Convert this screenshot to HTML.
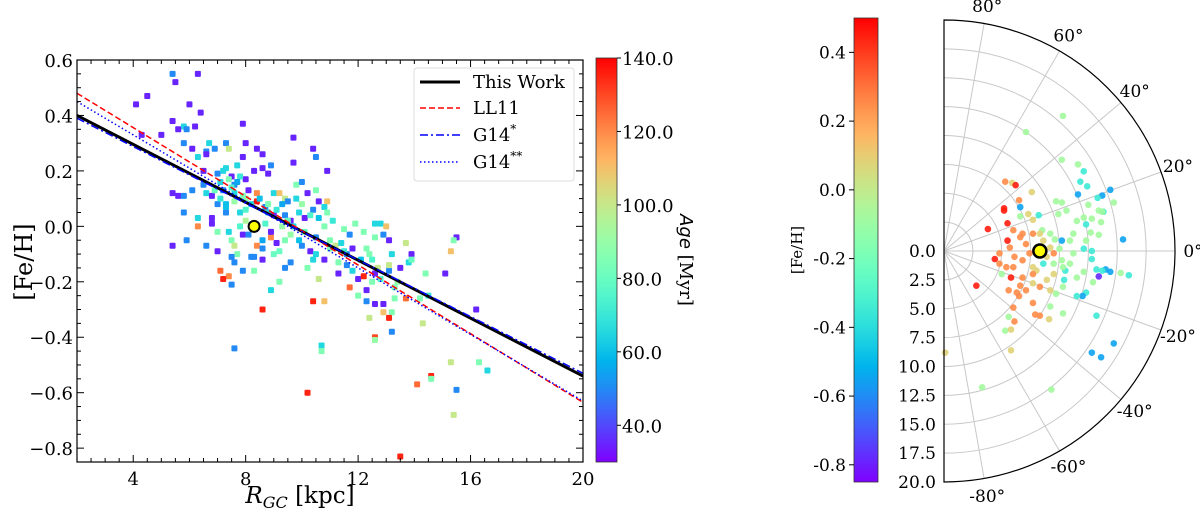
<!DOCTYPE html>
<html><head><meta charset="utf-8"><style>
html,body{margin:0;padding:0;background:#fff;}
svg{display:block;font-family:"DejaVu Serif","Liberation Serif",serif;}
</style></head><body>
<svg id="fig" width="1200" height="510" viewBox="0 0 1200 510" xmlns="http://www.w3.org/2000/svg">
<defs id="defs"></defs>
<g id="left"></g>
<g id="right"></g>
</svg>
<script>
// ---------- LEFT CHART DATA ----------
const leftR = [5.4,6.3,5.5,4.5,4.1,6.0,6.4,5.4,7.9,5.8,5.9,5.6,6.2,4.3,5.0,5.8,6.1,6.6,6.9,6.7,7.3,7.4,8.0,8.4,8.6,9.7,10.4,10.5,10.9,9.7,8.6,8.9,8.8,7.9,7.7,7.3,6.6,6.3,6.5,7.0,7.5,8.0,8.3,7.1,6.5,6.1,5.4,5.6,5.8,6.6,6.8,7.2,7.6,8.1,8.4,8.4,8.7,9.0,9.2,9.4,9.5,9.8,10.0,10.2,10.5,10.9,10.6,10.8,10.4,9.9,10.1,9.4,9.0,8.8,9.6,6.3,6.8,7.3,7.8,7.0,6.8,6.3,5.8,7.9,8.1,7.5,7.6,8.4,7.7,7.5,8.2,8.6,8.3,8.6,8.9,9.1,9.4,10.0,10.3,10.5,10.8,11.0,11.2,11.6,11.3,10.2,9.6,9.4,9.2,8.9,8.3,7.9,7.6,7.0,6.6,5.4,5.9,7.5,7.4,7.1,7.2,7.6,8.6,10.4,10.8,10.6,11.3,11.6,12.0,11.7,12.0,12.3,12.3,12.5,12.2,12.6,12.7,13.1,13.1,13.2,13.7,13.8,13.9,13.5,13.3,13.3,13.7,14.2,14.4,12.6,12.9,12.9,13.2,13.1,12.4,12.6,12.6,13.2,14.3,10.7,10.7,11.8,12.2,12.6,12.8,12.9,13.0,13.1,12.6,11.9,11.5,11.7,15.5,15.4,15.3,15.1,16.2,14.6,14.6,14.1,15.3,16.3,16.6,15.5,15.4,10.2,13.5,8.9,9.7,10.8,10.5,11.4,
 7.2,7.4,7.6,7.8,8.0,7.3,7.5,7.7,7.9,8.2,6.9,7.1,7.3,7.6,8.0,8.5,8.8,9.1,9.3,9.5,9.8,10.0,10.3,10.6,10.9,11.1,10.1,9.9,9.3,8.7,7.0,7.4,7.8,8.6,9.2,9.6,10.4,11.0,11.5,12.1,12.4,12.8,13.4,13.9,14.5,11.8,12.3,12.5,9.0,8.0];
const leftFeH = [0.55,0.55,0.52,0.47,0.44,0.44,0.41,0.38,0.37,0.36,0.35,0.35,0.36,0.33,0.33,0.30,0.28,0.27,0.28,0.30,0.30,0.28,0.30,0.28,0.26,0.32,0.28,0.25,0.20,0.23,0.21,0.22,0.19,0.25,0.22,0.21,0.26,0.25,0.20,0.19,0.18,0.17,0.20,0.16,0.15,0.13,0.12,0.11,0.11,0.12,0.11,0.13,0.12,0.13,0.12,0.09,0.07,0.12,0.12,0.10,0.09,0.15,0.16,0.12,0.13,0.09,0.09,0.07,0.06,0.05,0.03,0.04,0.04,0.05,0.02,0.03,0.03,0.05,0.05,0.08,0.01,0.00,0.05,-0.03,-0.03,-0.05,-0.07,-0.07,-0.10,-0.11,-0.11,-0.08,-0.11,-0.12,-0.04,-0.06,-0.05,-0.07,-0.09,-0.10,-0.12,-0.08,-0.07,-0.10,-0.13,-0.15,-0.13,-0.15,-0.20,-0.23,-0.16,-0.16,-0.13,-0.09,-0.07,-0.07,-0.05,-0.21,-0.18,-0.16,-0.19,-0.44,-0.30,-0.27,-0.27,-0.19,-0.17,-0.14,-0.19,-0.22,-0.25,-0.23,-0.27,-0.20,-0.18,-0.17,-0.15,-0.16,-0.14,-0.10,-0.06,-0.13,-0.10,-0.15,-0.22,-0.26,-0.26,-0.26,-0.17,-0.28,-0.28,-0.31,-0.31,-0.33,-0.33,-0.40,-0.41,-0.38,-0.35,-0.43,-0.45,-0.08,-0.02,0.01,0.01,-0.03,0.00,-0.05,-0.04,0.01,-0.01,-0.03,-0.04,-0.05,-0.09,-0.17,-0.30,-0.54,-0.55,-0.57,-0.49,-0.49,-0.52,-0.59,-0.68,-0.60,-0.83,-0.02,0.00,0.00,-0.04,-0.06,
 0.20,0.17,0.15,0.18,0.10,0.08,0.14,0.16,0.11,0.08,0.13,0.10,0.07,0.09,0.06,0.10,0.08,0.06,0.08,0.02,0.10,0.08,0.04,0.03,0.05,0.02,-0.02,-0.05,0.00,0.01,-0.02,-0.02,0.00,-0.05,-0.09,-0.03,-0.12,-0.05,-0.09,-0.12,-0.10,-0.19,-0.20,-0.12,-0.25,-0.16,-0.08,-0.12,-0.10,0.02];
const leftAge = [50,35,35,35,35,35,35,35,35,65,50,35,35,35,35,50,35,50,50,65,50,100,35,35,35,35,35,50,35,35,35,50,35,35,65,65,35,65,35,50,35,35,35,65,50,50,35,35,50,65,35,50,65,35,120,135,50,65,110,100,50,85,50,35,85,110,35,65,50,65,35,50,35,65,35,65,35,50,65,50,35,120,50,35,50,85,100,120,85,50,50,50,50,35,120,35,85,50,35,65,35,85,100,50,85,85,50,50,85,65,85,50,50,35,50,35,50,50,120,125,135,50,135,135,110,100,35,50,35,125,85,35,50,85,135,35,100,50,100,65,100,65,35,35,85,85,125,85,85,35,35,110,85,135,100,130,90,50,100,65,85,35,85,65,65,50,110,35,85,85,85,50,35,85,110,35,35,135,85,125,100,85,65,50,100,135,135,35,65,85,50,65,
 65,85,50,70,90,60,75,55,85,65,80,70,60,90,75,60,85,70,55,80,65,90,75,60,85,70,80,60,90,75,85,65,75,55,80,90,65,85,70,60,85,75,90,80,70,65,85,75,80,95];
const xTicks = [4,8,12,16,20];
const yTicks = [-0.8,-0.6,-0.4,-0.2,0.0,0.2,0.4,0.6];
const ageTicks = [40,60,80,100,120,140];
const fitNames = ["This Work","LL11","G14*","G14**"];
const fitStart = [0.40,0.48,0.39,0.45];
const fitEnd = [-0.54,-0.635,-0.53,-0.63];
const sunR = 8.3, sunFeH = 0.0;

// ---------- RIGHT CHART DATA ----------
const posX = [10.3,7.1,10.2,11.6,12.1,11.8,12.4,14.4,13.7,11.6,13.3,14.7,12.5,13.4,13.8,5.3,5.9,6.2,7.6,5.2,5.2,6.5,6.6,5.5,3.8,5.5,4.4,2.8,4.8,5.0,5.8,5.6,6.3,6.0,7.7,7.9,8.3,9.1,10.3,9.2,6.1,5.6,5.3,5.8,5.8,0.1,3.3,9.3,13.2,14.7,12.8,13.6,15.5,16.0,15.3,14.4,14.0,13.4,13.7,13.2,12.9,12.3,12.0,11.5,10.5,10.4,11.5,12.1,12.8,12.8,12.1,12.3,12.7,13.4,12.3,12.8,13.6,13.7,12.1,11.5,11.2,10.9,10.2,9.6,9.2,8.5,7.7,7.3,6.6,8.2,9.7,10.2,10.6,9.9,8.9,9.5,8.6,7.7,6.8,7.1,6.1,6.0,6.8,7.7,8.3,9.2,9.7,10.3,10.9,11.2,10.0,8.6,7.7,6.6,5.7,4.8,5.4,7.4,8.0,8.9,7.1,6.5,9.5,10.3,8.3,9.2,7.7,6.8,6.0,8.3,9.5,10.2,6.6];
const posY = [11.7,10.3,7.9,7.5,6.9,6.0,5.6,5.3,4.8,4.9,4.6,4.2,4.0,3.5,3.4,6.0,5.9,5.7,5.1,3.7,3.5,4.4,3.8,2.4,1.9,0.9,-0.7,-3.0,-1.1,-2.0,-2.3,-3.4,-3.6,-4.9,-4.5,-5.5,-5.6,-5.9,-5.4,-4.8,-6.1,-5.7,-6.9,-6.8,-8.6,-8.8,-11.8,-12.0,-5.6,-8.0,-8.8,-9.2,1.0,-2.1,-1.9,-1.8,-1.6,-2.2,-1.7,-1.6,-2.7,-3.6,-3.9,-3.9,-1.7,-2.5,-2.3,-1.8,-0.7,0.0,0.2,0.9,1.6,1.4,2.3,2.8,2.5,3.4,2.9,2.6,1.5,0.9,0.9,1.0,1.5,1.8,2.7,3.2,3.0,3.1,4.3,4.2,3.5,3.2,-0.5,-1.1,-1.1,-1.4,-0.8,0.6,-0.5,-1.4,-2.3,-2.8,-3.1,-3.4,-3.7,-3.1,-1.1,-0.2,0.2,0.9,1.5,1.2,0.3,-0.2,-1.4,-0.2,-1.7,-2.5,-3.4,-3.9,-2.0,-1.4,0.3,0.3,-2.0,1.5,1.8,1.5,-0.2,-0.8,-3.0];
const posFeH = [-0.08,-0.08,-0.08,-0.08,-0.35,-0.35,-0.35,-0.55,-0.55,-0.55,-0.35,-0.08,-0.08,-0.08,-0.35,0.25,0.08,0.45,0.08,0.45,0.45,0.25,-0.55,0.45,0.45,0.45,0.45,0.45,0.25,-0.08,0.45,0.25,0.25,0.25,0.25,0.25,0.25,0.08,-0.08,-0.08,0.25,-0.08,-0.08,0.08,0.08,0.08,-0.08,-0.08,-0.35,-0.55,-0.55,-0.55,-0.55,-0.35,-0.08,-0.55,-0.55,-0.78,-0.35,-0.35,-0.08,-0.35,-0.55,-0.35,-0.35,-0.35,-0.08,-0.08,-0.35,-0.35,-0.35,-0.08,-0.08,-0.08,-0.35,-0.08,-0.08,-0.08,-0.08,-0.08,-0.08,-0.08,-0.55,-0.08,-0.08,-0.08,0.08,0.08,-0.08,-0.35,-0.08,-0.08,-0.08,-0.08,0.08,-0.08,-0.35,0.08,0.25,0.25,0.25,0.25,0.25,0.08,0.25,0.08,-0.08,-0.08,-0.08,-0.08,-0.08,0.08,0.25,0.25,0.25,0.25,0.25,0.25,0.08,0.08,0.25,0.25,0.08,-0.08,0.25,0.08,0.25,0.25,0.25,0.08,0.25,-0.08,0.25];
const rTicks = [0,2.5,5,7.5,10,12.5,15,17.5,20];
const thetaTicks = [-80,-60,-40,-20,0,20,40,60,80];
const fehTicks = [-0.8,-0.6,-0.4,-0.2,0.0,0.2,0.4];
const sunPolarR = 8.3, sunPolarTheta = 0;

// ---------- helpers ----------
const NS = "http://www.w3.org/2000/svg";
function mk(tag, attrs, parent){const e=document.createElementNS(NS,tag);for(const k in attrs)e.setAttribute(k,attrs[k]);parent.appendChild(e);return e;}
function rainbow(t){t=Math.max(0,Math.min(1,t));const r=Math.min(1,Math.abs(2*t-0.5)),g=Math.sin(Math.PI*t),b=Math.cos(Math.PI*t/2);
 return "rgb("+Math.round(r*255)+","+Math.round(g*255)+","+Math.round(b*255)+")";}
const defs=document.getElementById("defs");
const grad=mk("linearGradient",{id:"rb",x1:"0",y1:"1",x2:"0",y2:"0"},defs);
for(let i=0;i<=20;i++){mk("stop",{offset:(i/20),"stop-color":rainbow(i/20)},grad);}

// ---------- LEFT ----------
const L=document.getElementById("left");
const X0=77,X1=583,Y0=60,Y1=462, xmin=2,xmax=20,ymin=-0.85,ymax=0.6;
const sx=v=>X0+(v-xmin)/(xmax-xmin)*(X1-X0);
const sy=v=>Y1-(v-ymin)/(ymax-ymin)*(Y1-Y0);
const AMIN=30,AMAX=140;
for(let i=0;i<leftR.length;i++){
 const p=mk("rect",{x:sx(leftR[i])-3,y:sy(leftFeH[i])-3,width:6,height:6,rx:1,fill:rainbow((leftAge[i]-AMIN)/(AMAX-AMIN))},L);
 
 
}
const fitStyle=[{c:"#000",w:3,d:""},{c:"#ff0000",w:1.5,d:"6,3"},{c:"#0000ff",w:1.5,d:"8,3,2,3"},{c:"#0000ff",w:1.5,d:"1.5,2.5"}];
for(let i=0;i<fitNames.length;i++){
 const ln=mk("line",{x1:sx(xmin),y1:sy(fitStart[i]),x2:sx(xmax),y2:sy(fitEnd[i]),stroke:fitStyle[i].c,"stroke-width":fitStyle[i].w,"stroke-dasharray":fitStyle[i].d},L);
 
 
}
const sunL=mk("circle",{cx:sx(sunR),cy:sy(sunFeH),r:5.5,fill:"#ffff00",stroke:"#000","stroke-width":2},L);


const fr=mk("rect",{x:X0,y:Y0,width:X1-X0,height:Y1-Y0,fill:"none",stroke:"#000","stroke-width":1.2},L);


for(let v=2;v<=20.001;v+=0.5){const maj=xTicks.some(t=>Math.abs(t-v)<1e-6);const len=maj?7:4;
 mk("line",{x1:sx(v),y1:Y1,x2:sx(v),y2:Y1-len,stroke:"#000"},L);mk("line",{x1:sx(v),y1:Y0,x2:sx(v),y2:Y0+len,stroke:"#000"},L);}
for(let k=-17;k<=12;k++){const v=k*0.05;const maj=Math.abs(v*5-Math.round(v*5))<1e-6;const len=maj?7:4;
 mk("line",{x1:X0,y1:sy(v),x2:X0+len,y2:sy(v),stroke:"#000"},L);mk("line",{x1:X1,y1:sy(v),x2:X1-len,y2:sy(v),stroke:"#000"},L);}
xTicks.forEach(t=>{const tx=mk("text",{x:sx(t),y:Y1+23,"font-size":18,"text-anchor":"middle"},L);tx.textContent=String(t);
 
 });
yTicks.forEach(t=>{const tx=mk("text",{x:X0-4,y:sy(t)+7,"font-size":18,"text-anchor":"end"},L);tx.textContent=(t<0?"\u2212":"")+Math.abs(t).toFixed(1);
 
 });
</script>
<script>
(function(){
const L=document.getElementById("left");
L.insertAdjacentHTML("beforeend",
'<text x="300" y="503" font-size="23" text-anchor="middle"><tspan font-style="italic">R</tspan><tspan font-style="italic" font-size="16" dy="5">GC</tspan><tspan dy="-5"> [kpc]</tspan></text>'+
'<text transform="translate(32,262) rotate(-90)" font-size="24" text-anchor="middle">[Fe/H]</text>'+
'<g><rect x="414" y="68" width="160" height="113" rx="3" fill="#fff" fill-opacity="0.85" stroke="#ddd"/>'+
'<line x1="420" y1="82" x2="460" y2="82" stroke="#000" stroke-width="3"/><text x="473" y="88" font-size="18">This Work</text>'+
'<line x1="420" y1="108" x2="460" y2="108" stroke="#f00" stroke-width="1.5" stroke-dasharray="6,3"/><text x="473" y="114" font-size="18">LL11</text>'+
'<line x1="420" y1="135" x2="460" y2="135" stroke="#00f" stroke-width="1.5" stroke-dasharray="8,3,2,3"/><text x="473" y="141" font-size="18">G14<tspan font-size="12" dy="-8">*</tspan></text>'+
'<line x1="420" y1="162" x2="460" y2="162" stroke="#00f" stroke-width="1.5" stroke-dasharray="1.5,2.5"/><text x="473" y="168" font-size="18">G14<tspan font-size="12" dy="-8">**</tspan></text></g>'+
'<rect x="596" y="58" width="21" height="404" fill="url(#rb)" stroke="#333" stroke-width="0.8"/>'+
'<text transform="translate(680,260) rotate(90)" font-size="18" text-anchor="middle"><tspan font-style="italic" font-family="DejaVu Sans, sans-serif">Age</tspan> [Myr]</text>');
const cy=v=>462-(v-30)/(140-30)*404;
ageTicks.forEach(t=>{L.insertAdjacentHTML("beforeend",'<line x1="617" y1="'+cy(t)+'" x2="621" y2="'+cy(t)+'" stroke="#000"/><text x="622" y="'+(cy(t)+7)+'" font-size="18">'+t.toFixed(1)+'</text>');});
})();

// ---------- RIGHT ----------
(function(){
const R=document.getElementById("right");
const CX=944,CY=251,RAD=231,RMAX=20;
const rp=v=>v/RMAX*RAD;
const px=(r,th)=>CX+rp(r)*Math.cos(th*Math.PI/180);
const py=(r,th)=>CY-rp(r)*Math.sin(th*Math.PI/180);
rTicks.forEach(r=>{if(r<=0||r>=RMAX)return;
 mk("path",{d:"M"+CX+","+(CY-rp(r))+" A"+rp(r)+","+rp(r)+" 0 0 1 "+CX+","+(CY+rp(r)),fill:"none",stroke:"#c8c8c8","stroke-width":1},R);});
thetaTicks.forEach(t=>{mk("line",{x1:CX,y1:CY,x2:px(RMAX,t),y2:py(RMAX,t),stroke:"#c8c8c8","stroke-width":1},R);});
for(let i=0;i<posX.length;i++){
 const r=Math.hypot(posX[i],posY[i]);const th=Math.atan2(posY[i],posX[i])*180/Math.PI;
 const c=mk("circle",{cx:px(r,th),cy:py(r,th),r:3.3,fill:rainbow((posFeH[i]+0.85)/1.35),"fill-opacity":0.9},R);
 
 
}
const sun=mk("circle",{cx:px(sunPolarR,sunPolarTheta),cy:py(sunPolarR,sunPolarTheta),r:6.5,fill:"#ffff00",stroke:"#000","stroke-width":2.5},R);


const sp=mk("path",{d:"M"+CX+","+(CY-RAD)+" A"+RAD+","+RAD+" 0 0 1 "+CX+","+(CY+RAD)+" Z",fill:"none",stroke:"#000","stroke-width":1.2},R);


thetaTicks.forEach(t=>{
 const rr=RAD+18;const x=CX+rr*Math.cos(t*Math.PI/180),y=CY-rr*Math.sin(t*Math.PI/180);
 const tx=mk("text",{x:x,y:y+6,"font-size":17,"text-anchor":"middle"},R);tx.textContent=t+"\u00b0";
 
 
});
rTicks.forEach(r=>{
 const tx=mk("text",{x:CX-8,y:CY+rp(r)+6,"font-size":17,"text-anchor":"end"},R);tx.textContent=r.toFixed(1);
 
 
});
const cb=mk("rect",{x:854,y:18,width:24,height:464,fill:"url(#rb)",stroke:"#333","stroke-width":0.8},R);


const cy=v=>482-(v+0.85)/1.35*464;
fehTicks.forEach(t=>{mk("line",{x1:849,y1:cy(t),x2:854,y2:cy(t),stroke:"#000"},R);
 const tx=mk("text",{x:846,y:cy(t)+6,"font-size":17,"text-anchor":"end"},R);tx.textContent=(t<0?"-":"")+Math.abs(t).toFixed(1);
 
 });
const ttl=mk("text",{transform:"translate(802,250) rotate(-90)","font-size":15,"text-anchor":"middle"},R);ttl.textContent="[Fe/H]";


})();
</script>
</body></html>
